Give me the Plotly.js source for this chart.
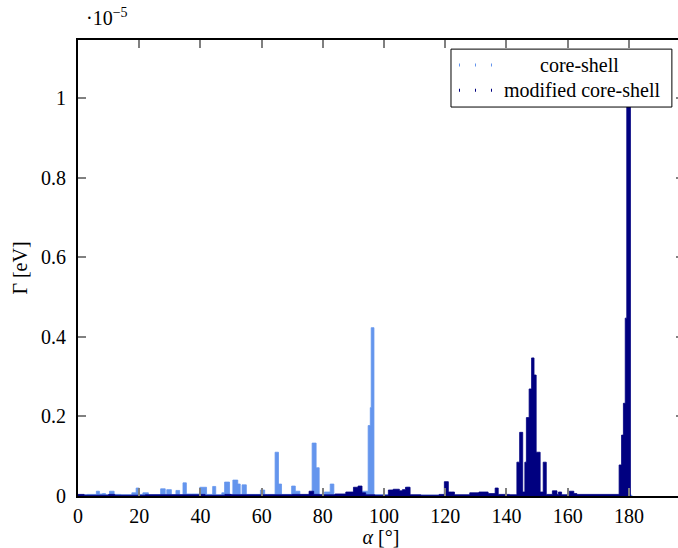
<!DOCTYPE html>
<html>
<head>
<meta charset="utf-8">
<script src="https://cdn.plot.ly/plotly-3.0.1.min.js"></script>
<style>
  html, body { margin: 0; padding: 0; background: #ffffff; overflow: hidden; }
  #chart { width: 685px; height: 548px; }
</style>
</head>
<body>
<div id="chart"></div>
<script>
// Angle alpha in degrees (step start positions) and decay rate Gamma in units of 1e-5 eV
const coreShellAlpha = [0, 3, 6, 7, 8, 9, 10.3, 11.8, 14, 17.6, 19, 20, 21.2, 23, 27, 28.5, 29, 30.5, 32, 33.2,
  34.3, 35.4, 37, 39.8, 42, 44, 45, 47, 47.9, 49.5, 50.6, 52.2, 53, 53.6, 55, 58, 59.6, 61, 64.4, 65.5,
  66.5, 69.8, 71, 72.5, 76.5, 77.8, 78.8, 80.5, 82.4, 83.6, 93, 94.8, 95.5, 95.8, 96.7, 107.4, 108.3, 181];
const coreShellGamma = [0.003, 0.004, 0.012, 0.005, 0.006, 0.003, 0.012, 0.004, 0.003, 0.008, 0.020, 0.004, 0.008, 0.003, 0.018, 0.004, 0.016, 0.003, 0.014, 0.003,
  0.033, 0.005, 0.005, 0.022, 0.004, 0.024, 0.003, 0.008, 0.035, 0.004, 0.040, 0.030, 0.004, 0.028, 0.004, 0.004, 0.015, 0.004, 0.110, 0.030,
  0.004, 0.025, 0.012, 0.003, 0.133, 0.071, 0.004, 0.010, 0.030, 0.004, 0.012, 0.177, 0.222, 0.423, 0.003, 0.022, 0.002, 0];

const modifiedAlpha = [0, 2, 10, 12, 22, 40, 41.5, 48, 50, 62, 70, 75.5, 77, 79, 84, 87.5, 90, 91.5, 92.8, 94,
  97, 101.4, 103, 105, 106, 107, 108.5, 112, 118, 119.7, 121, 122, 123, 128, 131, 134, 136.3, 137.3, 141, 143.4,
  144.3, 145.3, 146, 146.5, 147.4, 148.2, 149, 149.7, 151, 152, 153, 155, 156.5, 157, 158, 160.5, 162, 163, 176.8, 177.6,
  178.2, 178.8, 179.3, 180.5];
const modifiedGamma = [0.004, 0.002, 0.004, 0.002, 0.003, 0.004, 0.002, 0.004, 0.003, 0.003, 0.004, 0.012, 0.004, 0.003, 0.005, 0.010, 0.022, 0.025, 0.008, 0.003,
  0.002, 0.015, 0.017, 0.013, 0.016, 0.022, 0.003, 0.002, 0.004, 0.036, 0.010, 0.010, 0.003, 0.008, 0.010, 0.006, 0.020, 0.004, 0.003, 0.085,
  0.160, 0.010, 0.085, 0.197, 0.269, 0.347, 0.304, 0.110, 0.010, 0.085, 0.004, 0.013, 0.004, 0.010, 0.003, 0.012, 0.006, 0.004, 0.078, 0.153,
  0.233, 0.447, 1.10, 0];

const xTicks = [0, 20, 40, 60, 80, 100, 120, 140, 160, 180];
const yTicks = [0, 0.2, 0.4, 0.6, 0.8, 1];
const yTickText = ["0", "0.2", "0.4", "0.6", "0.8", "1"];
const seriesNames = ["core-shell", "modified core-shell"];

const lightBlue = "#6495ED";
const navy = "#000080";
const FONT = "Liberation Serif, DejaVu Serif, serif";
const FS = 20;

const traces = [
  {x: coreShellAlpha, y: coreShellGamma, type: "scatter", mode: "lines", name: seriesNames[0],
   line: {shape: "hv", color: lightBlue, width: 0.8}, fill: "tozeroy", fillcolor: lightBlue, showlegend: false},
  {x: modifiedAlpha, y: modifiedGamma, type: "scatter", mode: "lines", name: seriesNames[1],
   line: {shape: "hv", color: navy, width: 0.8}, fill: "tozeroy", fillcolor: navy, showlegend: false}
];

// legend box geometry (paper coordinates)
const lgX0 = 0.6155, lgX1 = 0.980, lgY0 = 0.853, lgY1 = 0.980;

const layout = {
  width: 685, height: 548,
  margin: {l: 78, r: 1, t: 40, b: 52},
  paper_bgcolor: "#ffffff", plot_bgcolor: "#ffffff",
  font: {family: FONT, size: FS, color: "#000"},
  showlegend: false,
  xaxis: {
    range: [0, 198], tickvals: xTicks, ticktext: xTicks.map(String),
    ticks: "inside", ticklen: 8, tickwidth: 2, tickcolor: "#808080",
    showline: true, linecolor: "#000", linewidth: 2, mirror: "ticks",
    showgrid: false, zeroline: false, ticklabelstandoff: 1,
    tickfont: {family: FONT, size: FS},
    title: {text: "<i>α</i> [°]", font: {family: FONT, size: FS}, standoff: 4}
  },
  yaxis: {
    range: [0, 1.146], tickvals: yTicks, ticktext: yTickText,
    ticks: "inside", ticklen: 8, tickwidth: 2, tickcolor: "#808080",
    showline: true, linecolor: "#000", linewidth: 2, mirror: "ticks",
    showgrid: false, zeroline: false, ticklabelstandoff: 6,
    tickfont: {family: FONT, size: FS},
    title: {text: "Γ [eV]", font: {family: FONT, size: FS}, standoff: 8}
  },
  shapes: [
    {type: "rect", xref: "paper", yref: "paper", x0: lgX0, x1: lgX1, y0: lgY0, y1: lgY1,
     line: {color: "#000", width: 1}, fillcolor: "#ffffff", layer: "above"},
    {type: "line", xref: "paper", yref: "paper", x0: 0.6287, x1: 0.688, y0: 0.945, y1: 0.945,
     line: {color: lightBlue, width: 3, dash: "1px,15px"}, layer: "above"},
    {type: "line", xref: "paper", yref: "paper", x0: 0.6287, x1: 0.688, y0: 0.890, y1: 0.890,
     line: {color: navy, width: 3, dash: "1px,15px"}, layer: "above"}
  ],
  annotations: [
    {xref: "paper", yref: "paper", x: 0.828, y: 0.945, text: seriesNames[0], showarrow: false,
     xanchor: "center", yanchor: "middle", font: {family: FONT, size: FS}},
    {xref: "paper", yref: "paper", x: 0.832, y: 0.890, text: seriesNames[1], showarrow: false,
     xanchor: "center", yanchor: "middle", font: {family: FONT, size: FS}},
    {xref: "paper", yref: "paper", x: 0.01, y: 1.05, text: "·10<sup>−5</sup>", showarrow: false,
     xanchor: "left", yanchor: "middle", font: {family: FONT, size: FS}}
  ]
};

Plotly.newPlot("chart", traces, layout, {displayModeBar: false, staticPlot: true});
</script>
</body>
</html>
